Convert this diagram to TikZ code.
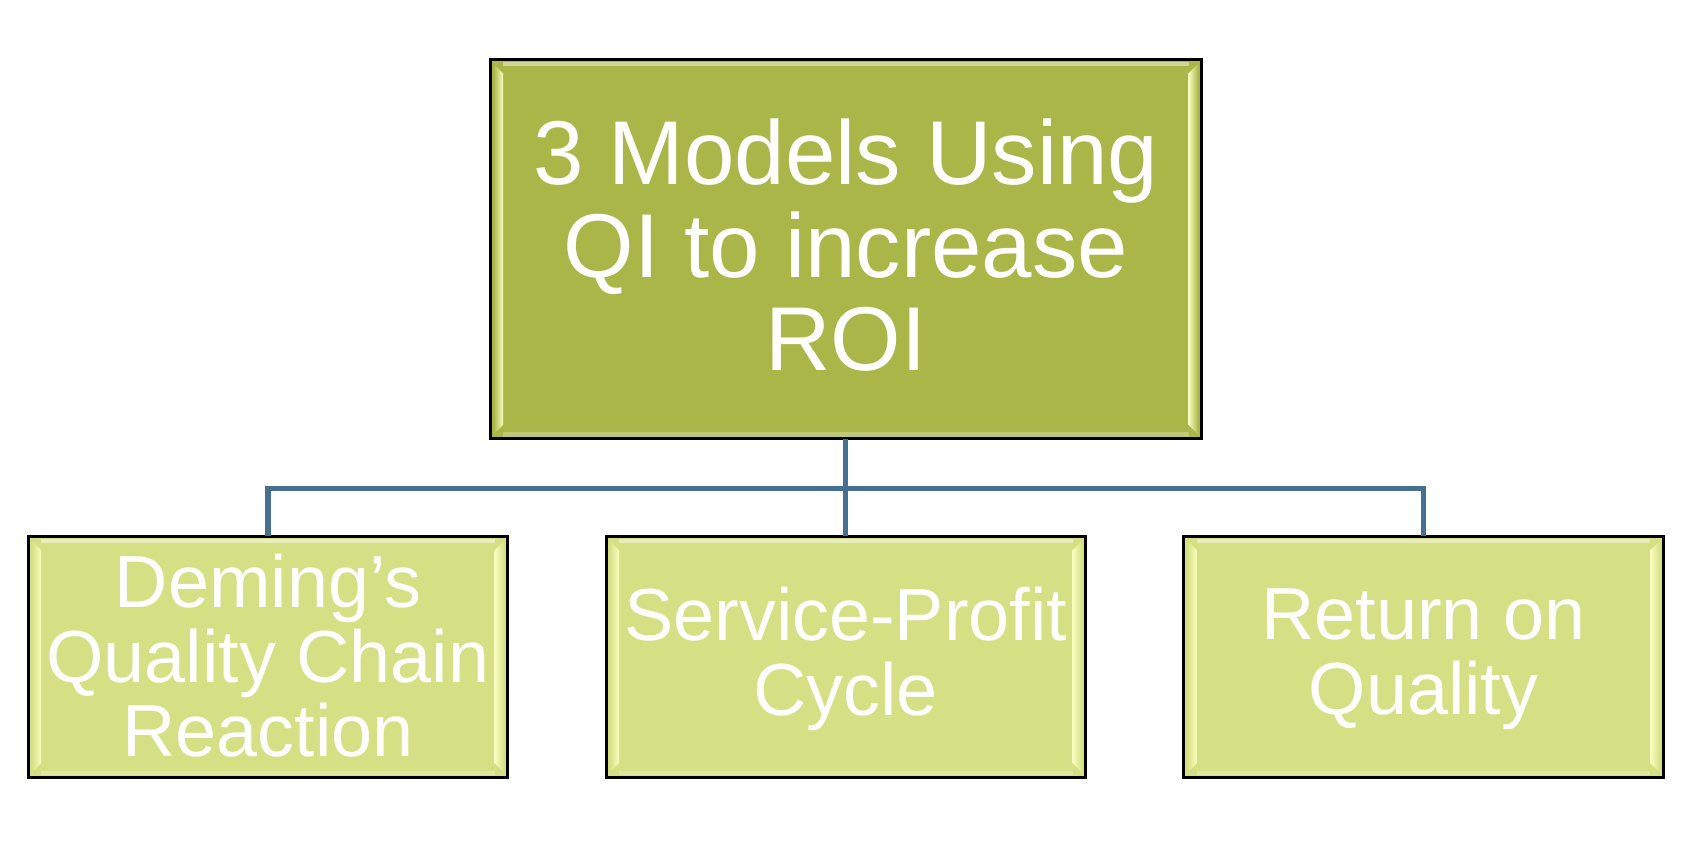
\documentclass[tikz,border=0pt]{standalone}
\usepackage{fontspec}
\setmainfont{Liberation Sans}
\usetikzlibrary{calc}

\definecolor{topgreen}{HTML}{AAB648}
\definecolor{subgreen}{HTML}{D5E084}
\definecolor{bevelhi}{HTML}{FAFDBE}
\definecolor{linkblue}{HTML}{46708F}

% bevel strips on the inner left and right edges of a box
\newcommand{\bevel}[2]{%
  \shade[left color=#2, right color=bevelhi] ($(#1.north west)+(3,4)$) -- ++(9,9)
    -- ($(#1.south west)+(12,-13)$) -- ++(-9,9) -- cycle;
  \shade[left color=bevelhi, right color=#2] ($(#1.north east)+(-3,4)$) -- ++(-9,9)
    -- ($(#1.south east)+(-12,-13)$) -- ++(9,9) -- cycle;
  \draw[white, opacity=0.45, line width=1.2pt] ($(#1.north west)+(12,4)$) -- ($(#1.north east)+(-12,4)$);
  \draw[white, opacity=0.25, line width=1.2pt] ($(#1.south west)+(12,-4)$) -- ($(#1.south east)+(-12,-4)$);
  \draw[black, line width=0.85pt] (#1.north west) rectangle (#1.south east);
}

\begin{document}
\begin{tikzpicture}[x=0.01074cm, y=-0.01074cm,
    topbox/.style={fill=topgreen, inner sep=0pt,
      minimum width=7.10cm, minimum height=3.78cm},
    subbox/.style={fill=subgreen, inner sep=0pt,
      minimum width=4.78cm, minimum height=2.395cm},
    toptext/.style={text=white, align=center, font=\fontsize{25.8}{26.5}\selectfont},
    subtext/.style={text=white, align=center, font=\fontsize{21}{21.3}\selectfont},
    link/.style={draw=linkblue, line width=1.5pt}]
  \useasboundingbox (0,0) rectangle (1568,808.2);

  % boxes
  \node[topbox] (top) at (787.5,232) {};
  \node[subbox] (deming) at (249.5,611.5) {};
  \node[subbox] (spc) at (787.5,611.5) {};
  \node[subbox] (roq) at (1325.5,611.5) {};
  \bevel{top}{topgreen}
  \bevel{deming}{subgreen}
  \bevel{spc}{subgreen}
  \bevel{roq}{subgreen}

  % texts
  \node[toptext] at ($(top)+(0,-4)$) {3 Models Using\\QI to increase\\ROI};
  \node[subtext] at ($(deming)+(0,-1)$) {Deming's\\Quality Chain\\Reaction};
  \node[subtext] at ($(spc)+(0,2)$) {Service-Profit\\Cycle};
  \node[subtext] at ($(roq)+(0,2)$) {Return on\\Quality};

  % connectors
  \coordinate (jl) at (249.5,455);
  \coordinate (jr) at (1325.5,455);
  \draw[link] (top.south) -- (spc.north);
  \draw[link] (deming.north) -- (jl) -- (jr) -- (roq.north);
\end{tikzpicture}
\end{document}
